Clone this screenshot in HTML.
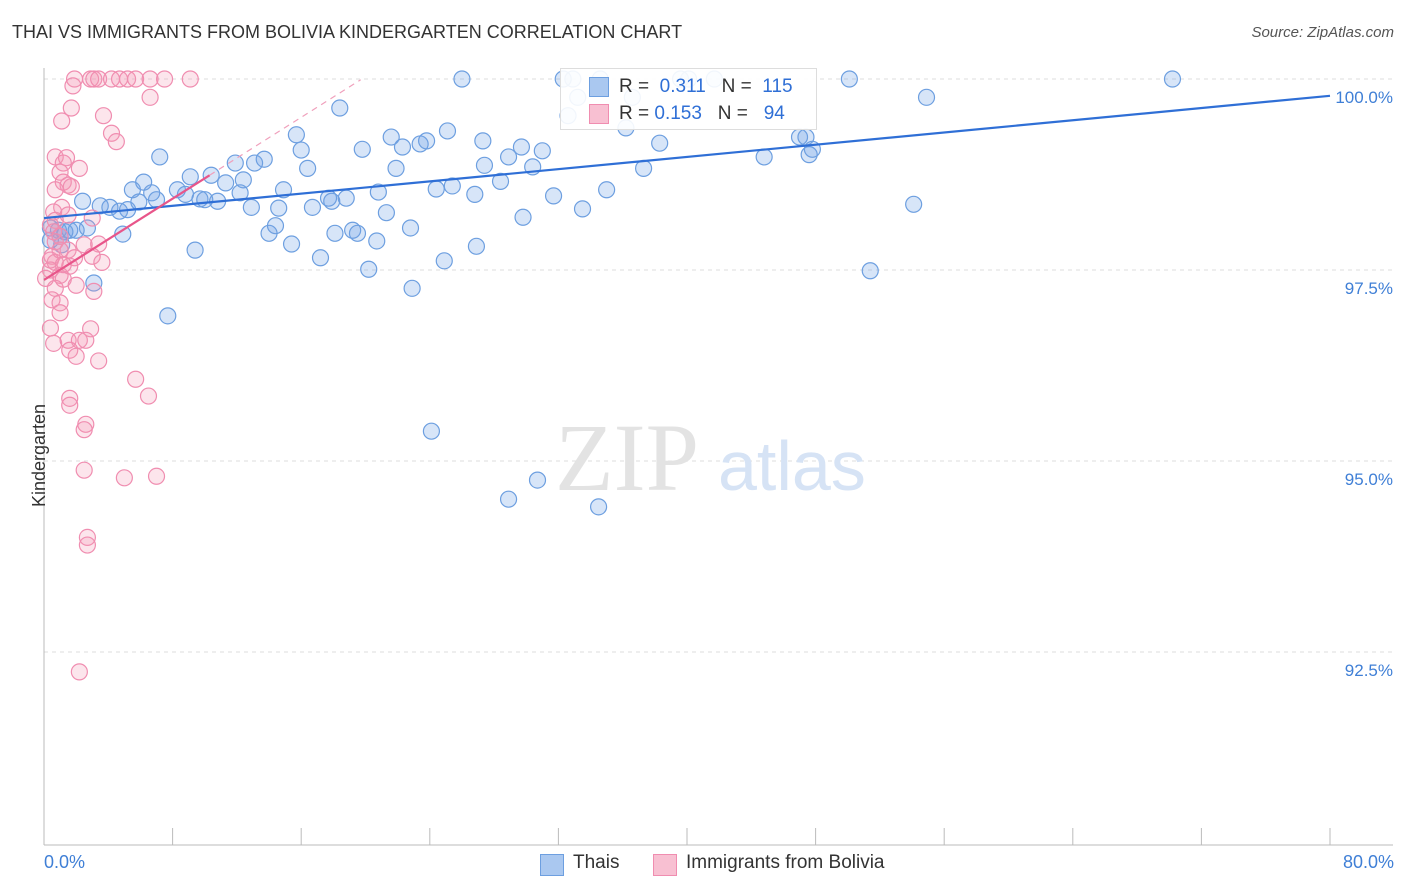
<!DOCTYPE html>
<html><head><meta charset="utf-8">
<style>
body{margin:0;background:#fff;font-family:"Liberation Sans",sans-serif;}
#wrap{position:relative;width:1406px;height:892px;overflow:hidden;}
.t{position:absolute;white-space:nowrap;}
</style></head>
<body>
<div id="wrap">
<div class="t" style="left:12px;top:22px;font-size:18px;color:#333;">THAI VS IMMIGRANTS FROM BOLIVIA KINDERGARTEN CORRELATION CHART</div>
<div class="t" style="right:12px;top:24px;font-size:15px;color:#555;font-style:italic;">Source: ZipAtlas.com</div>
<svg id="chart" width="1406" height="892" style="position:absolute;left:0;top:0"></svg>
</div>
<script>
const blueX=[26.0,32.3,32.9,34.6,39.6,40.1,41.7,50.1,70.2,18.4,54.9,33.2,36.6,32.6,36.2,15.7,25.1,19.8,21.6,22.3,23.4,23.8,27.3,29.7,31.0,16.0,7.2,11.9,13.7,13.1,10.4,9.1,16.4,21.9,27.4,28.9,30.4,38.3,37.3,44.8,47.0,47.4,47.6,47.8,6.2,5.5,6.7,8.3,8.8,11.3,12.4,12.2,14.9,17.7,18.8,20.8,24.4,25.4,28.4,26.8,31.7,35.0,2.4,3.5,4.1,4.7,5.2,5.9,7.0,9.7,10.0,10.8,12.9,14.6,16.7,17.9,21.3,29.8,33.5,54.1,4.9,14.0,14.4,15.4,18.1,19.2,19.5,20.7,22.8,26.9,0.4,0.9,1.6,2.7,1.1,9.4,17.2,20.2,24.9,51.4,22.9,3.1,7.7,24.1,30.7,28.9,34.5,1.0,0.4,2.0,1.3];
const blueY=[100,100,100,100,100,100,100,100,100,99.62,99.76,99.76,99.76,99.52,99.36,99.27,99.32,99.08,99.24,99.11,99.15,99.19,99.19,99.11,99.06,99.07,98.98,98.90,98.95,98.90,98.74,98.72,98.83,98.83,98.87,98.98,98.85,99.16,98.83,98.98,99.24,99.24,99.01,99.08,98.65,98.55,98.51,98.55,98.49,98.64,98.68,98.51,98.55,98.44,98.44,98.52,98.56,98.60,98.66,98.49,98.47,98.55,98.40,98.34,98.32,98.27,98.29,98.39,98.42,98.43,98.42,98.40,98.32,98.31,98.32,98.40,98.25,98.19,98.30,98.36,97.97,97.98,98.08,97.84,97.98,98.02,97.98,97.88,98.05,97.81,98.05,98.02,98.02,98.05,97.83,97.76,97.66,97.51,97.62,97.49,97.26,97.33,96.90,95.39,94.75,94.50,94.40,97.94,97.89,98.02,98.00];
const pinkX=[1.9,2.9,3.1,3.4,4.2,4.7,5.2,5.7,6.6,7.5,9.1,1.8,6.6,1.7,3.7,1.1,4.2,4.5,0.7,1.4,1.2,2.2,1.0,1.2,1.5,1.7,0.7,1.1,0.6,1.5,0.7,3.0,0.4,0.6,1.0,0.7,2.5,3.4,1.5,0.5,1.9,3.0,0.7,3.6,1.6,0.4,1.0,1.2,2.0,0.7,3.1,0.5,1.0,1.0,0.4,2.9,0.6,1.5,2.2,2.6,1.6,2.0,3.4,5.7,1.6,1.6,6.5,2.6,2.5,2.5,5.0,7.0,2.7,2.7,2.2,0.4,0.1,1.0,1.2];
const pinkY=[100,100,100,100,100,100,100,100,100,100,100,99.91,99.76,99.62,99.52,99.45,99.29,99.18,98.98,98.97,98.90,98.83,98.78,98.65,98.61,98.59,98.55,98.32,98.26,98.22,98.15,98.18,98.09,98.00,97.94,97.87,97.83,97.84,97.76,97.68,97.66,97.68,97.60,97.60,97.55,97.50,97.43,97.38,97.30,97.26,97.22,97.11,97.07,96.94,96.74,96.73,96.54,96.58,96.58,96.58,96.45,96.37,96.31,96.07,95.82,95.73,95.85,95.48,95.41,94.88,94.78,94.80,94.00,93.90,92.24,97.63,97.39,97.76,97.57];
const yTicks=[100,97.5,95,92.5];
const yTickLabels=["100.0%","97.5%","95.0%","92.5%"];
const xTicks=[0,8,16,24,32,40,48,56,64,72,80];
const blueTrend=[98.18,99.78]; // at x=0, x=80
const pinkTrend=[97.37,0.133]; // intercept, slope

const NS="http://www.w3.org/2000/svg";
const svg=document.getElementById('chart');
function xs(v){return 44+v*16.075;}
function ys(v){return 79+(100-v)*76.4;}
function mk(tag,attrs,parent){const e=document.createElementNS(NS,tag);for(const k in attrs)e.setAttribute(k,attrs[k]);(parent||svg).appendChild(e);return e;}

// gridlines
yTicks.forEach((t,i)=>{
  const g=mk('line',{x1:44,x2:1393,y1:ys(t),y2:ys(t),stroke:'#dcdcdc','stroke-dasharray':'4,4'});
  
  
  const tx=mk('text',{x:1393,y:ys(t)+24,'text-anchor':'end','font-size':17,fill:'#3f7fd6','font-family':'Liberation Sans'});
  tx.textContent=yTickLabels[i];
  
  
});
// axes
const ax=mk('line',{x1:44,x2:1393,y1:845,y2:845,stroke:'#bbb'});


const ay=mk('line',{x1:44,x2:44,y1:68,y2:845,stroke:'#bbb'});


xTicks.forEach(t=>{
  const l=mk('line',{x1:xs(t),x2:xs(t),y1:828,y2:845,stroke:'#bbb'});
  
  
});
// watermark
const wm=mk('text',{x:555,y:490,'font-size':96,fill:'#e3e3e3','font-family':'Liberation Serif'});
wm.textContent='ZIP';


const wm2=mk('text',{x:718,y:490,'font-size':70,fill:'#d6e3f5','font-family':'Liberation Sans'});
wm2.textContent='atlas';



// points
blueX.forEach((x,i)=>{
  const c=mk('circle',{cx:xs(x),cy:ys(blueY[i]),r:8,fill:'rgba(110,160,230,0.28)',stroke:'#6d9fe0','stroke-width':1.2});
  
  
});
pinkX.forEach((x,i)=>{
  const c=mk('circle',{cx:xs(x),cy:ys(pinkY[i]),r:8,fill:'rgba(245,150,180,0.25)',stroke:'#f08db0','stroke-width':1.2});
  
  
});
// trend lines
const bt=mk('line',{x1:xs(0),y1:ys(blueTrend[0]),x2:xs(80),y2:ys(blueTrend[1]),stroke:'#2f6fd6','stroke-width':2.2});


const pd=mk('line',{x1:xs(10.3),y1:ys(pinkTrend[0]+pinkTrend[1]*10.3),x2:xs(19.7),y2:ys(pinkTrend[0]+pinkTrend[1]*19.7),stroke:'#f0a0bc','stroke-width':1.2,'stroke-dasharray':'6,5'});


const pt=mk('line',{x1:xs(0),y1:ys(pinkTrend[0]),x2:xs(10.3),y2:ys(pinkTrend[0]+pinkTrend[1]*10.3),stroke:'#e8558a','stroke-width':2.2});


</script>
<div class="t" style="left:44px;top:852px;font-size:18px;color:#3f7fd6;">0.0%</div>
<div class="t" style="right:12px;top:852px;font-size:18px;color:#3f7fd6;">80.0%</div>
<div class="t" style="left:-12px;top:445px;font-size:18px;color:#333;transform:rotate(-90deg);">Kindergarten</div>
<div style="position:absolute;left:560px;top:68px;width:255px;height:60px;background:rgba(255,255,255,0.9);border:1px solid #ddd;font-size:19px;">
  <div style="position:absolute;left:28px;top:8px;width:18px;height:18px;background:#aac8f0;border:1px solid #6d9fe0;"></div>
  <div class="t" style="left:58px;top:7px;color:#333;">R = <span style="color:#2f6fd6">&nbsp;0.311</span>&nbsp;&nbsp;&nbsp;N = <span style="color:#2f6fd6">&nbsp;115</span></div>
  <div style="position:absolute;left:28px;top:35px;width:18px;height:18px;background:#f8c0d2;border:1px solid #f08db0;"></div>
  <div class="t" style="left:58px;top:34px;color:#333;">R = <span style="color:#2f6fd6">0.153</span>&nbsp;&nbsp;&nbsp;N = <span style="color:#2f6fd6">&nbsp;&nbsp;94</span></div>
</div>
<div style="position:absolute;left:540px;top:852px;font-size:19px;color:#333;">
  <div style="position:absolute;left:0;top:2px;width:22px;height:20px;background:#aac8f0;border:1px solid #6d9fe0;"></div>
  <div class="t" style="left:33px;top:0;">Thais</div>
  <div style="position:absolute;left:113px;top:2px;width:22px;height:20px;background:#f8c0d2;border:1px solid #f08db0;"></div>
  <div class="t" style="left:146px;top:0;">Immigrants from Bolivia</div>
</div>
</body></html>
